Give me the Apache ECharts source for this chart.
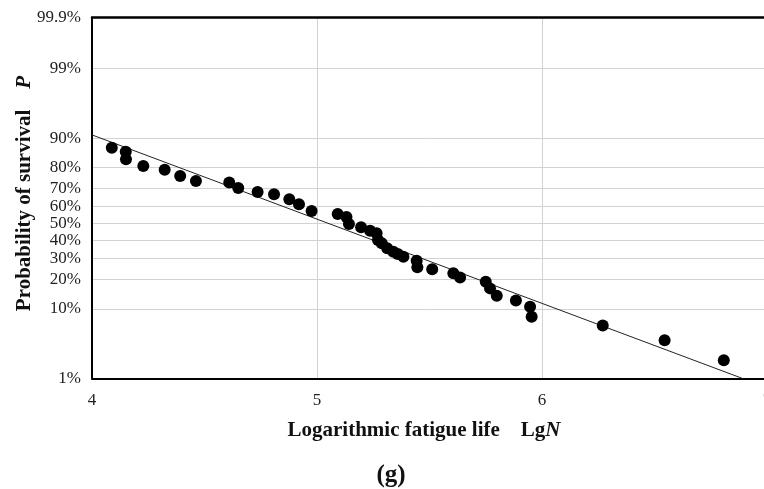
<html>

<head>
    <meta charset="UTF-8">
    <title>Probability of survival</title>
    <script src="https://cdn.jsdelivr.net/npm/echarts@6/dist/echarts.min.js"></script>
    <style>html, body { margin: 0; padding: 0; background: #fff; }</style>
</head>

<body>
    <div id="container" style="width: 764px;height:489px;"></div>
</body>

<script>
    // logarithmic fatigue life LgN of each specimen
    var lgN = [4.088, 4.150, 4.151, 4.228, 4.323, 4.392, 4.462, 4.610, 4.650, 4.736,
        4.809, 4.877, 4.920, 4.976, 5.092, 5.131, 5.142, 5.196, 5.236, 5.265,
        5.271, 5.288, 5.312, 5.339, 5.359, 5.384, 5.443, 5.446, 5.512, 5.606,
        5.636, 5.750, 5.769, 5.799, 5.884, 5.947, 5.954, 6.270, 6.545, 6.808];
    // probability of survival P, in %
    var survival = [87.2, 85.9, 83.2, 80.6, 79.0, 76.2, 73.8, 73.0, 70.3, 68.2,
        66.9, 64.2, 61.3, 57.4, 55.6, 53.9, 49.7, 47.7, 45.7, 44.1,
        40.2, 38.3, 35.5, 33.6, 32.3, 30.9, 28.8, 25.5, 24.6, 22.7,
        20.9, 19.1, 16.5, 13.9, 12.4, 10.6, 8.1, 6.3, 4.0, 2.0];
    // fitted line (two ends)
    var fitLgN = [4, 6.892];
    var fitSurvival = [90.8, 1.0];
    // probability axis ticks
    var yTickProbs = [1, 10, 20, 30, 40, 50, 60, 70, 80, 90, 99, 99.9];
    var yTickLabels = ['1%', '10%', '20%', '30%', '40%', '50%', '60%', '70%', '80%', '90%', '99%', '99.9%'];

    // inverse normal cdf (Acklam) -> normal probability paper
    function probit(p) {
        var a = [-3.969683028665376e+01, 2.209460984245205e+02, -2.759285104469687e+02, 1.383577518672690e+02, -3.066479806614716e+01, 2.506628277459239e+00];
        var b = [-5.447609879822406e+01, 1.615858368580409e+02, -1.556989798598866e+02, 6.680131188771972e+01, -1.328068155288572e+01];
        var c = [-7.784894002430293e-03, -3.223964580411365e-01, -2.400758277161838e+00, -2.549732539343734e+00, 4.374664141464968e+00, 2.938163982698783e+00];
        var d = [7.784695709041462e-03, 3.224671290700398e-01, 2.445134137142996e+00, 3.754408661907416e+00];
        var pl = 0.02425, q, r;
        if (p < pl) {
            q = Math.sqrt(-2 * Math.log(p));
            return (((((c[0] * q + c[1]) * q + c[2]) * q + c[3]) * q + c[4]) * q + c[5]) / ((((d[0] * q + d[1]) * q + d[2]) * q + d[3]) * q + 1);
        }
        if (p > 1 - pl) {
            q = Math.sqrt(-2 * Math.log(1 - p));
            return -(((((c[0] * q + c[1]) * q + c[2]) * q + c[3]) * q + c[4]) * q + c[5]) / ((((d[0] * q + d[1]) * q + d[2]) * q + d[3]) * q + 1);
        }
        q = p - 0.5;
        r = q * q;
        return (((((a[0] * r + a[1]) * r + a[2]) * r + a[3]) * r + a[4]) * r + a[5]) * q / (((((b[0] * r + b[1]) * r + b[2]) * r + b[3]) * r + b[4]) * r + 1);
    }

    var yTickZ = yTickProbs.map(function (p) { return probit(p / 100); });
    var points = lgN.map(function (x, i) { return [x, probit(survival[i] / 100)]; });
    var fitLine = fitLgN.map(function (x, i) { return [x, probit(fitSurvival[i] / 100)]; });

    var serif = 'Liberation Serif';
    var titleStyle = {
        fontFamily: serif, fontSize: 21, fontWeight: 'bold', color: '#111',
        rich: { i: { fontFamily: serif, fontSize: 21, fontWeight: 'bold', fontStyle: 'italic', color: '#111' } }
    };
    var mycharts = echarts.init(document.getElementById('container'));

    var option = {
        animation: false,
        grid: {
            left: 92, top: 17.5, width: 675, height: 361,
            outerBoundsMode: 'none',
            containLabel: false,
            show: false
        },
        xAxis: [{
            type: 'value', min: 4, max: 7, interval: 1,
            axisLine: { show: true, onZero: false, lineStyle: { color: '#000', width: 2 } },
            axisTick: { show: false },
            axisLabel: { fontFamily: serif, fontSize: 17, color: '#222', margin: 14 },
            splitLine: { show: true, lineStyle: { color: '#d2d2d2', width: 1 } },
            name: 'Logarithmic fatigue life    Lg{i|N}',
            nameLocation: 'middle', nameGap: 42, nameMoveOverlap: false,
            nameTextStyle: echarts.util.extend({ padding: [0, 11, 0, 0] }, titleStyle)
        }, {
            // top frame line only
            type: 'value', position: 'top', min: 4, max: 7, interval: 1,
            axisLine: { show: true, onZero: false, lineStyle: { color: '#000', width: 2.5 } },
            axisTick: { show: false },
            axisLabel: { show: false },
            splitLine: { show: false }
        }],
        yAxis: {
            type: 'value', min: yTickZ[0], max: yTickZ[yTickZ.length - 1],
            axisLine: { show: true, onZero: false, lineStyle: { color: '#000', width: 2 } },
            axisTick: { show: false, customValues: yTickZ },
            axisLabel: {
                customValues: yTickZ, showMinLabel: true, showMaxLabel: true,
                fontFamily: serif, fontSize: 17, color: '#222', margin: 11,
                padding: [8, 0, 0, 0],
                formatter: function (v) {
                    var best = 0;
                    for (var k = 1; k < yTickZ.length; k++) {
                        if (Math.abs(yTickZ[k] - v) < Math.abs(yTickZ[best] - v)) best = k;
                    }
                    return yTickLabels[best];
                }
            },
            splitLine: { show: true, lineStyle: { color: '#d2d2d2', width: 1 } },
            name: 'Probability of survival    {i|P}',
            nameLocation: 'middle', nameGap: 57, nameRotate: 90, nameMoveOverlap: false,
            nameTextStyle: echarts.util.extend({ padding: [0, 0, 0, 9] }, titleStyle)
        },
        graphic: [{
            type: 'text', x: 391, y: 476,
            style: {
                text: '(g)', font: 'bold 25px "Liberation Serif"', fill: '#111',
                textAlign: 'center', textVerticalAlign: 'middle'
            }
        }],
        series: [{
            type: 'line',
            data: fitLine,
            symbol: 'none',
            lineStyle: { color: '#222', width: 1 },
            z: 2
        }, {
            type: 'scatter',
            data: points,
            symbolSize: 12,
            itemStyle: { color: '#000', opacity: 1 },
            z: 3
        }]
    };

    mycharts.setOption(option);
</script>

</html>
